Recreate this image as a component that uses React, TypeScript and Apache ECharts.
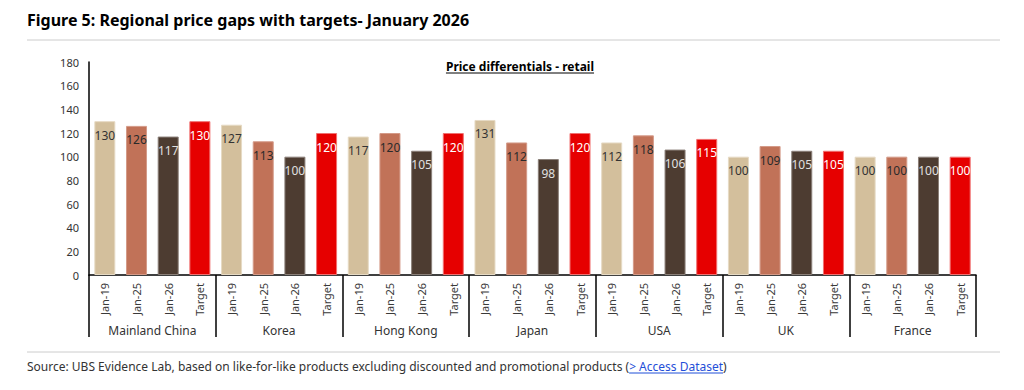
import React, { useEffect, useRef } from "react";
import * as echarts from "echarts";

const groups = ["Mainland China", "Korea", "Hong Kong", "Japan", "USA", "UK", "France"];
const periods = ["Jan-19", "Jan-25", "Jan-26", "Target"];
const jan19 = [130, 127, 117, 131, 112, 100, 100];
const jan25 = [126, 113, 120, 112, 118, 109, 100];
const jan26 = [117, 100, 105, 98, 106, 105, 100];
const target = [130, 120, 120, 120, 115, 105, 100];
const yTicks = { min: 0, max: 180, interval: 20 };

const seriesValues = [jan19, jan25, jan26, target];
const barColors = ["#D3BF9C", "#C17258", "#4D3C31", "#E60000"];
const borderColors = ["#E6DAC4", "#D49A88", "#8A7F78", "#F07070"];
const labelColors = ["#333333", "#2a2a2a", "#E0E0E0", "#FFFFFF"];

const FONT = "'Noto Sans', 'Open Sans', sans-serif";

function measure(text: string, font: string): number {
  const c = document.createElement("canvas").getContext("2d");
  if (!c) return text.length * 6;
  c.font = font;
  return c.measureText(text).width;
}

export default function App() {
  const ref = useRef<HTMLDivElement>(null);
  useEffect(() => {
    if (!ref.current) return;
    const chart = echarts.init(ref.current, undefined, { renderer: "svg" });

    const cats: string[] = [];
    const data: any[] = [];
    groups.forEach((g, gi) => {
      periods.forEach((p, pi) => {
        cats.push(p);
        data.push({
          value: seriesValues[pi][gi],
          itemStyle: { color: barColors[pi], borderColor: borderColors[pi], borderWidth: 1 },
          label: { color: labelColors[pi] },
        });
      });
    });

    const srcMain =
      "Source: UBS Evidence Lab, based on like-for-like products excluding discounted and promotional products (";
    const srcLink = "> Access Dataset";
    const srcFont = `12px ${FONT}`;
    const mainW = measure(srcMain, srcFont);
    const linkW = measure(srcLink, srcFont);
    const srcX = 27;
    const srcY = 366;

    const subtitle = "Price differentials - retail";
    const subW = measure(subtitle, `bold 12px ${FONT}`);
    const subCx = 520;

    chart.setOption({
      animation: false,
      grid: { left: 89, right: 48, top: 62, bottom: 115, containLabel: false },
      xAxis: [
        {
          type: "category",
          data: cats,
          position: "bottom",
          axisLine: { show: true, lineStyle: { color: "#000", width: 1.5 } },
          axisTick: { show: false },
          axisLabel: {
            interval: 0,
            rotate: 90,
            margin: 8,
            fontSize: 11,
            color: "#3a3a3a",
            fontFamily: FONT,
          },
        },
        {
          type: "category",
          data: groups,
          position: "bottom",
          axisLine: { show: false },
          axisTick: {
            show: true,
            interval: 0,
            length: 62,
            lineStyle: { color: "#000", width: 1.5 },
          },
          axisLabel: {
            interval: 0,
            margin: 49,
            fontSize: 12,
            color: "#333",
            fontFamily: FONT,
          },
        },
      ],
      yAxis: {
        type: "value",
        min: yTicks.min,
        max: yTicks.max,
        interval: yTicks.interval,
        axisLine: { show: true, lineStyle: { color: "#000", width: 1.5 } },
        axisTick: { show: false },
        splitLine: { show: false },
        axisLabel: { fontSize: 11, color: "#333", margin: 10, fontFamily: FONT },
      },
      series: [
        {
          type: "bar",
          xAxisIndex: 0,
          data,
          barWidth: 21,
          label: {
            show: true,
            position: "insideTop",
            distance: 8,
            fontSize: 12,
            fontFamily: FONT,
          },
        },
      ],
      graphic: [
        {
          type: "text",
          left: 27,
          top: 12,
          style: {
            text: "Figure 5: Regional price gaps with targets- January 2026",
            font: `bold 16px ${FONT}`,
            fill: "#000",
          },
        },
        {
          type: "line",
          shape: { x1: 27, y1: 40, x2: 1000, y2: 40 },
          style: { stroke: "#CCCCCC", lineWidth: 1 },
        },
        {
          type: "text",
          x: subCx,
          y: 66,
          style: {
            text: subtitle,
            font: `bold 12px ${FONT}`,
            fill: "#000",
            align: "center",
            verticalAlign: "middle",
          },
        },
        {
          type: "line",
          shape: { x1: subCx - subW / 2, y1: 73, x2: subCx + subW / 2, y2: 73 },
          style: { stroke: "#000", lineWidth: 1 },
        },
        {
          type: "line",
          shape: { x1: 27, y1: 352, x2: 1000, y2: 352 },
          style: { stroke: "#CCCCCC", lineWidth: 1 },
        },
        {
          type: "text",
          x: srcX,
          y: srcY,
          style: {
            text: srcMain,
            font: srcFont,
            fill: "#333",
            verticalAlign: "middle",
          },
        },
        {
          type: "text",
          x: srcX + mainW,
          y: srcY,
          style: {
            text: srcLink,
            font: srcFont,
            fill: "#1F4FD8",
            verticalAlign: "middle",
          },
        },
        {
          type: "line",
          shape: {
            x1: srcX + mainW,
            y1: srcY + 7,
            x2: srcX + mainW + linkW,
            y2: srcY + 7,
          },
          style: { stroke: "#1F4FD8", lineWidth: 1 },
        },
        {
          type: "text",
          x: srcX + mainW + linkW,
          y: srcY,
          style: {
            text: ")",
            font: srcFont,
            fill: "#333",
            verticalAlign: "middle",
          },
        },
      ],
    });
    return () => chart.dispose();
  }, []);
  return (
    <div
      ref={ref}
      style={{ position: "fixed", left: 0, top: 0, width: 1024, height: 390, background: "#fff" }}
    />
  );
}
